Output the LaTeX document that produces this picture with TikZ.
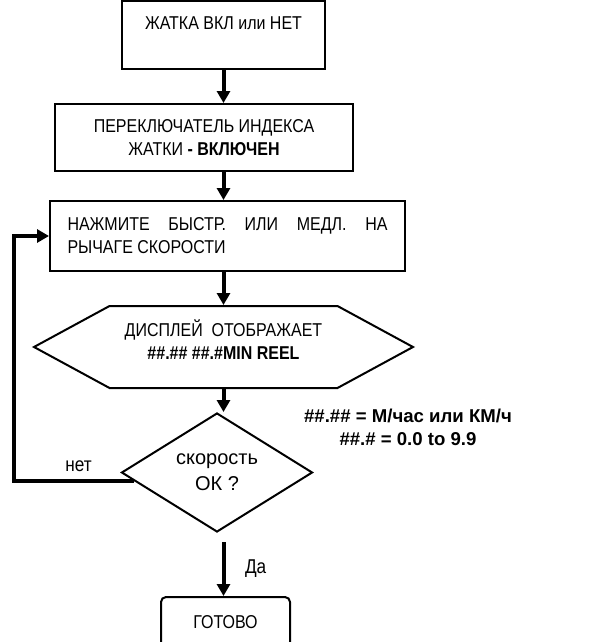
\documentclass[tikz,border=0pt]{standalone}
\usepackage{fontspec}
\setmainfont{Liberation Sans}[FakeStretch=0.86]
\newfontfamily\plainfont{Liberation Sans}
\usetikzlibrary{arrows.meta,positioning,shapes.geometric,shapes.symbols,calc}

\begin{document}
\begin{tikzpicture}[x=1pt, y=-1pt,
  base/.style={draw, line width=2pt, inner sep=0pt,
               font=\fontsize{18.6pt}{23pt}\selectfont},
  box/.style={base, rectangle, align=center},
  hexa/.style={base, signal, signal to=west and east, signal pointer angle=57,
               align=center},
  ask/.style={base, diamond, align=center,
              font=\plainfont\fontsize{20pt}{26pt}\selectfont},
  endbox/.style={base, rounded corners=5pt, align=center},
  lbl/.style={inner sep=0pt, font=\fontsize{20pt}{24pt}\selectfont},
  note/.style={inner sep=0pt, align=center,
               font=\plainfont\fontsize{18.6pt}{23pt}\selectfont\bfseries},
  arr/.style={-{Triangle[length=12pt,width=13pt]}, line width=4pt}]
  \useasboundingbox (0,0) rectangle (614,642);
  \node[box, minimum width=203pt, minimum height=68pt] (b1) at (223.5,35)
    {ЖАТКА ВКЛ или НЕТ\\~};
  \node[box, minimum width=298pt, minimum height=67pt, below=33pt of b1, xshift=-19.5pt] (b2)
    {ПЕРЕКЛЮЧАТЕЛЬ ИНДЕКСА\\ЖАТКИ \textbf{- ВКЛЮЧЕН}};
  \node[box, minimum width=355pt, minimum height=70pt, text width=320pt, align=justify,
        below=28pt of b2, xshift=23.5pt] (b3)
    {НАЖМИТЕ БЫСТР. ИЛИ МЕДЛ. НА\linebreak РЫЧАГЕ СКОРОСТИ};
  \node[hexa, minimum width=379pt, minimum height=82pt, below=33pt of b3, xshift=-4pt] (hex)
    {ДИСПЛЕЙ\ \ ОТОБРАЖАЕТ\\\textbf{\#\#.\#\# \#\#.\#MIN REEL}\\[-9pt]~};
  \node[ask, minimum width=191pt, minimum height=119pt, below=23pt of hex, xshift=-6.5pt] (dia)
    {скорость\\ОК ?};
  \node[endbox, minimum width=129pt, minimum height=50pt, below=63pt of dia, xshift=8.5pt] (done)
    {ГОТОВО};
  \node[note] (units) at (408,427) {\#\#.\#\# = М/час или КМ/ч\\\#\#.\# = 0.0 to 9.9};
  \coordinate (turn) at ($(b3.west)+(-35,0)$);
  \coordinate (yes) at ($(dia.south)+(0,9)$);
  \draw[arr] (b1.south) -- (b2.north -| b1);
  \draw[arr] (b2.south -| b1) -- (b3.north -| b1);
  \draw[arr] (b3.south -| b1) -- (hex.north -| b1);
  \draw[arr] (hex.south -| b1) -- (dia.north -| b1);
  \draw[arr] (yes -| b1) -- node[lbl, midway, right=19.5pt]{Да} (done.north -| b1);
  \draw[arr] ([shift={(13,8)}]dia.west) -| node[lbl, pos=0.23, above=7pt]{нет} (turn) -- (b3.west);
\end{tikzpicture}
\end{document}
